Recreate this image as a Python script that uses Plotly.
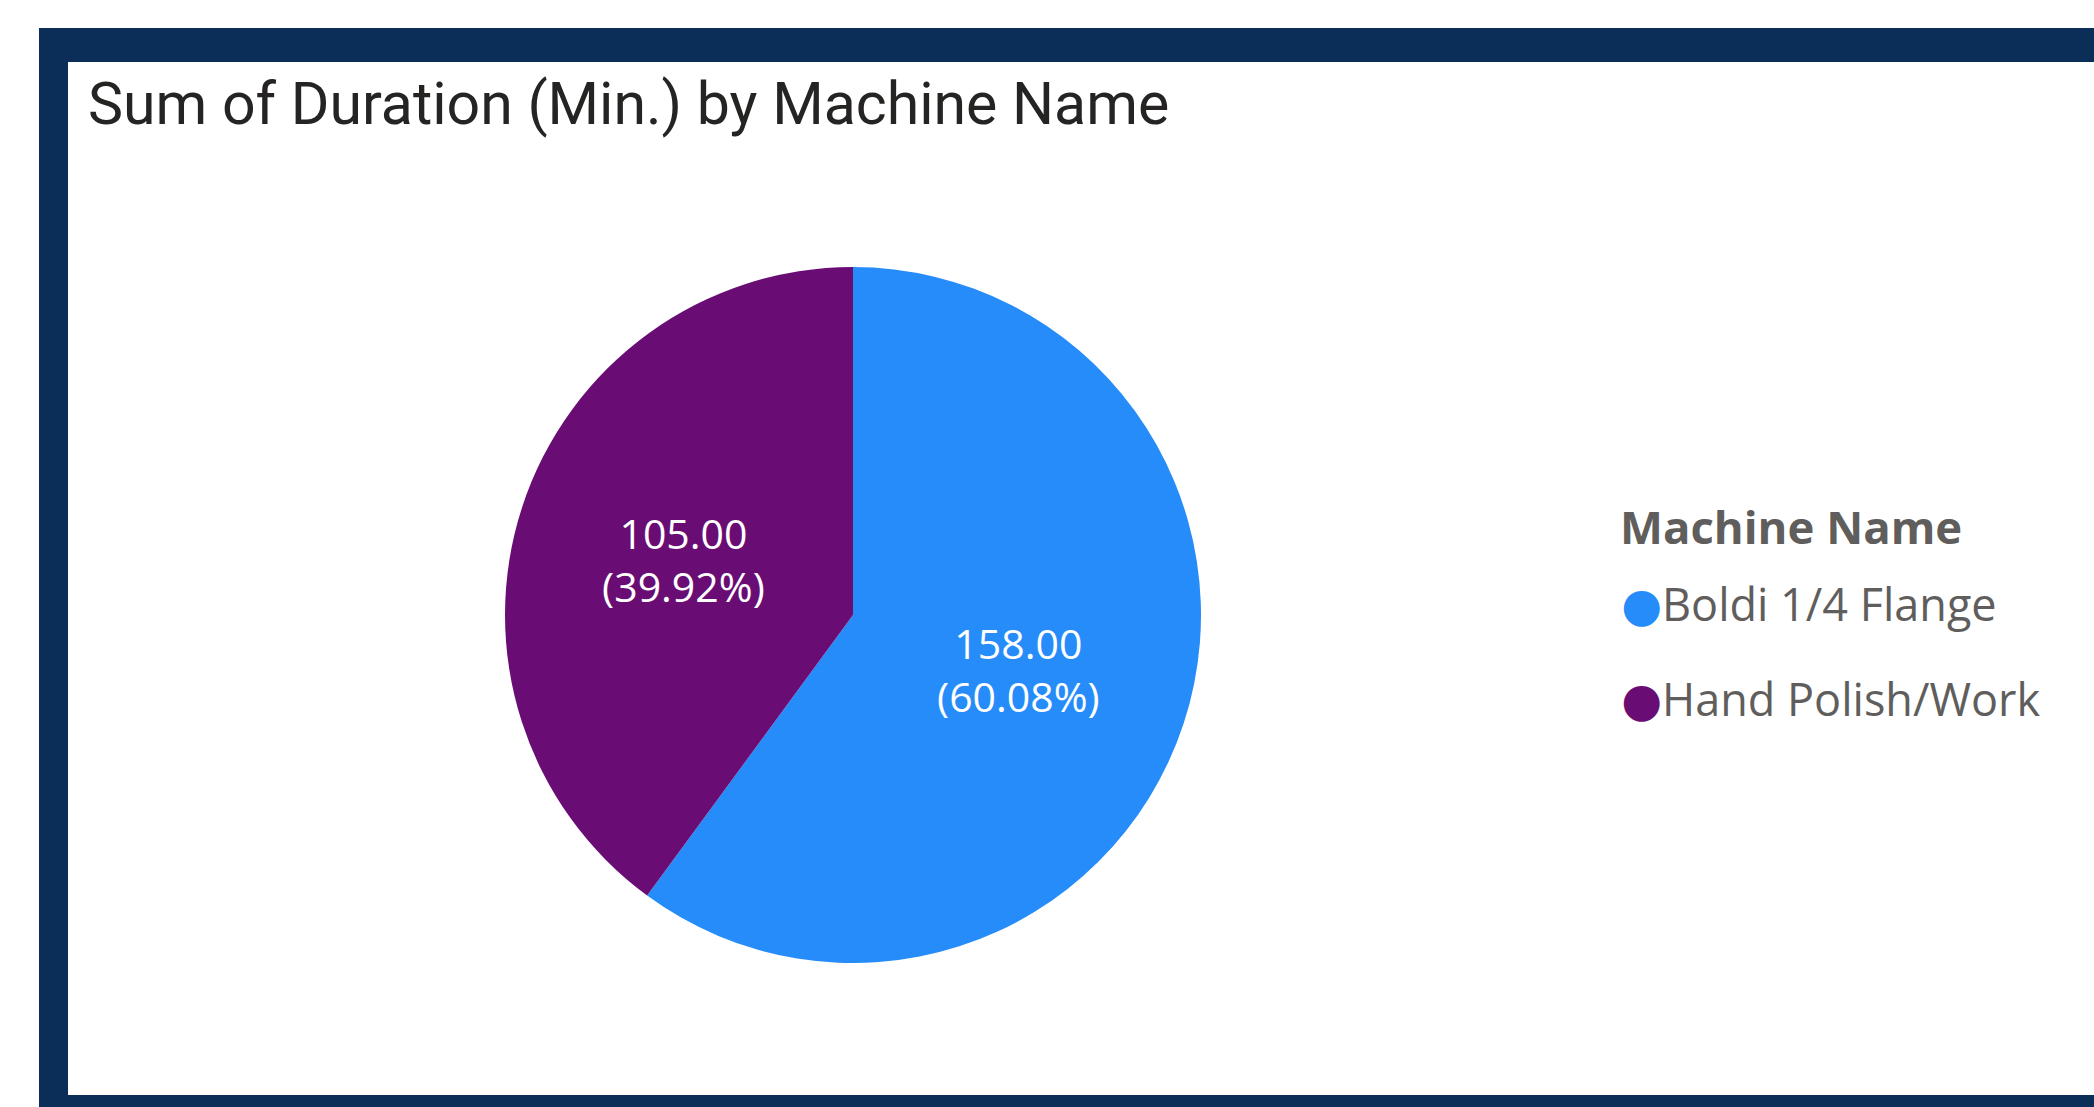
import plotly.graph_objects as go

# ---- data ----
machines = ["Boldi 1/4 Flange", "Hand Polish/Work"]
durations = [158.0, 105.0]
colors = ["#268CF9", "#690D75"]
chart_title = "Sum of Duration (Min.) by Machine Name"
legend_title = "Machine Name"

W, H = 2094, 1107
NAVY = "#0B2E59"
GRAY = "#605E5C"


def px_x(x):
    return x / W


def px_y(y):
    return 1 - y / H


fig = go.Figure()

# pie (center ~ (852, 615), radius ~348 px)
cx, cy, r = 853, 615, 348
fig.add_trace(go.Pie(
    labels=machines,
    values=durations,
    marker=dict(colors=colors, line=dict(width=0)),
    sort=False,
    direction="clockwise",
    rotation=0,
    texttemplate="%{value:.2f}<br>(%{percent:.2%})",
    textposition="inside",
    insidetextorientation="horizontal",
    textfont=dict(family="Open Sans", size=41, color="white"),
    showlegend=False,
    hoverinfo="label+value+percent",
    domain=dict(x=[px_x(cx - r), px_x(cx + r)], y=[px_y(cy + r), px_y(cy - r)]),
))

# legend entries with round markers
for name, col in zip(machines, colors):
    fig.add_trace(go.Scatter(
        x=[None], y=[None], mode="markers",
        marker=dict(size=1, color="rgba(0,0,0,0)"),
        name=(f'<span style="color:{col};font-family:DejaVu Sans;'
              f'font-size:47px">●</span>{name}'),
        legendgroup=name,
        showlegend=True,
        hoverinfo="skip",
    ))

fig.update_layout(
    width=W, height=H,
    margin=dict(l=0, r=0, t=0, b=0),
    paper_bgcolor="white",
    plot_bgcolor="rgba(0,0,0,0)",
    xaxis=dict(visible=False),
    yaxis=dict(visible=False),
    title=dict(
        text=chart_title,
        x=px_x(88), xanchor="left", xref="paper",
        y=px_y(103), yanchor="middle", yref="paper",
        font=dict(family="Roboto", size=59, color="#252423"),
    ),
    legend=dict(
        font=dict(family="Open Sans", size=45, color=GRAY),
        x=px_x(1581), xanchor="left",
        y=px_y(568), yanchor="top",
        tracegroupgap=33,
        itemwidth=30,
        bgcolor="rgba(0,0,0,0)",
    ),
    annotations=[
        dict(text="<b>" + legend_title + "</b>",
             xref="paper", yref="paper",
             x=px_x(1618), xanchor="left",
             y=px_y(526), yanchor="middle",
             showarrow=False,
             font=dict(family="Open Sans", size=45.5, color=GRAY)),
    ],
    shapes=[
        dict(type="rect", xref="paper", yref="paper", layer="below",
             x0=px_x(39), x1=1.01, y0=-0.01, y1=px_y(28),
             fillcolor=NAVY, line=dict(width=0)),
        dict(type="rect", xref="paper", yref="paper", layer="below",
             x0=px_x(68), x1=1.01, y0=px_y(1095), y1=px_y(62),
             fillcolor="white", line=dict(width=0)),
    ],
)

fig.write_html("out.html",
               config={"displayModeBar": False},
               post_script="document.body.style.margin='0';"
                           "document.body.style.overflow='hidden';")
